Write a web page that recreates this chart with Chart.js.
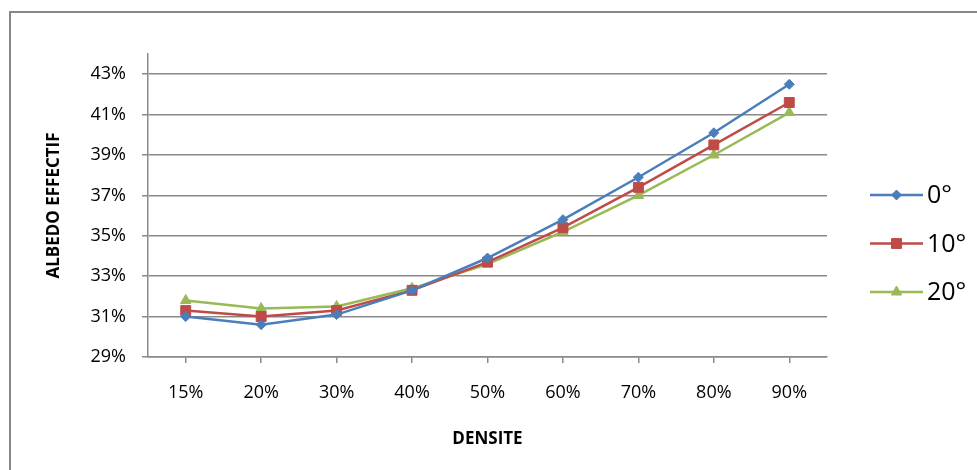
<!DOCTYPE html>
<html>
<head>
<meta charset="utf-8">
<script src="https://cdn.jsdelivr.net/npm/chart.js@4.4.0/dist/chart.umd.min.js"></script>
<style>
  html, body { margin: 0; padding: 0; background: #fff; overflow: hidden; }
  #wrap { position: relative; width: 977px; height: 470px; }
  #frame { position: absolute; left: 9px; top: 11px; width: 1000px; height: 500px; border: 2px solid #878787; }
  canvas { position: absolute; left: 0; top: 0; }
</style>
</head>
<body>
<div id="wrap">
  <div id="frame"></div>
  <canvas id="chart" width="977" height="470"></canvas>
</div>
<script>
// densities on x axis
const categories = ['15%', '20%', '30%', '40%', '50%', '60%', '70%', '80%', '90%'];
const seriesLabels = ['0°', '10°', '20°'];
// effective albedo (%) per angle
const albedo0 = [31.0, 30.6, 31.1, 32.3, 33.9, 35.8, 37.9, 40.1, 42.5];
const albedo10 = [31.3, 31.0, 31.3, 32.3, 33.7, 35.4, 37.4, 39.5, 41.6];
const albedo20 = [31.8, 31.4, 31.5, 32.4, 33.6, 35.2, 37.0, 39.0, 41.1];
const yTicks = [29, 31, 33, 35, 37, 39, 41, 43];
const yMin = 29, yMax = 44;

const gridColor = '#8a8a8a';
const font = '"Open Sans", "Liberation Sans", sans-serif';

// legend with a short line and the marker in the middle, like the original
const lineLegend = {
  id: 'lineLegend',
  afterDraw(chart) {
    const ctx = chart.ctx;
    const x0 = chart.chartArea.right + 43;
    const x1 = x0 + 53;
    chart.data.datasets.forEach((ds, i) => {
      const y = 195 + i * 48.5;
      ctx.save();
      ctx.strokeStyle = ds.borderColor;
      ctx.lineWidth = 2.5;
      ctx.beginPath();
      ctx.moveTo(x0, y);
      ctx.lineTo(x1, y);
      ctx.stroke();
      ctx.lineWidth = 1;
      ctx.fillStyle = ds.pointBackgroundColor;
      Chart.helpers.drawPoint(ctx, {pointStyle: ds.pointStyle, radius: ds.pointRadius, borderWidth: 1, rotation: 0}, (x0 + x1) / 2, y);
      ctx.fillStyle = '#000';
      ctx.font = '25px ' + font;
      ctx.textBaseline = 'middle';
      ctx.textAlign = 'left';
      ctx.fillText(ds.label, x1 + 4, y + 1);
      ctx.restore();
    });
  }
};

function makeSet(label, data, color, style, radius) {
  return {
    label: label,
    data: data,
    borderColor: color,
    backgroundColor: color,
    pointBackgroundColor: color,
    pointBorderColor: color,
    borderWidth: 2.5,
    pointStyle: style,
    pointRadius: radius,
    pointBorderWidth: 1,
    tension: 0
  };
}

new Chart(document.getElementById('chart'), {
  type: 'line',
  data: {
    labels: categories,
    datasets: [
      makeSet(seriesLabels[0], albedo0, '#4A7EBB', 'rectRot', 5),
      makeSet(seriesLabels[1], albedo10, '#BE4B48', 'rect', 7),
      makeSet(seriesLabels[2], albedo20, '#98B954', 'triangle', 6)
    ]
  },
  plugins: [lineLegend],
  options: {
    responsive: false,
    animation: false,
    layout: { padding: { top: 54, right: 150, left: 0, bottom: 0 } },
    plugins: { legend: { display: false }, tooltip: { enabled: false } },
    scales: {
      x: {
        offset: true,
        afterFit: (s) => { s.height = 113; },
        grid: { drawOnChartArea: false, drawTicks: true, tickLength: 6, color: gridColor, lineWidth: 1.5 },
        border: { color: gridColor, width: 1.5 },
        ticks: { color: '#000', padding: 19, font: { family: font, size: 18 } },
        title: { display: true, text: 'DENSITE', color: '#000', padding: { top: 0, bottom: 21 }, font: { family: font, size: 17, weight: 'bold' } }
      },
      y: {
        min: yMin,
        max: yMax,
        afterFit: (s) => { s.width = 148; },
        afterBuildTicks: (s) => { s.ticks = yTicks.map(v => ({ value: v })); },
        grid: { color: gridColor, lineWidth: 1.5, tickLength: 6 },
        border: { color: gridColor, width: 1.5 },
        ticks: { color: '#000', padding: 16, font: { family: font, size: 18 }, callback: (v) => v + '%' },
        title: { display: true, text: 'ALBEDO EFFECTIF', color: '#000', padding: { top: 44, bottom: 0 }, font: { family: font, size: 17, weight: 'bold' } }
      }
    }
  }
});
</script>
</body>
</html>
